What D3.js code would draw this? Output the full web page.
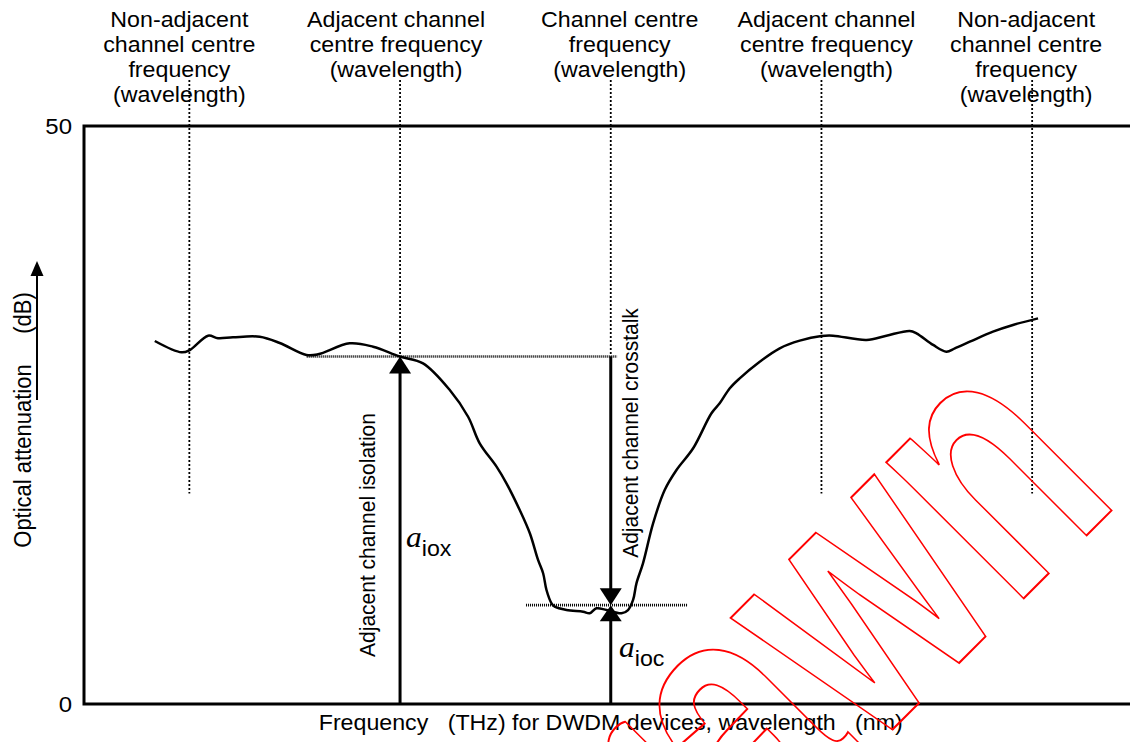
<!DOCTYPE html>
<html><head><meta charset="utf-8">
<script src="https://cdn.jsdelivr.net/npm/d3@7"></script>
<style>
body{margin:0;background:#fff}
svg{display:block}
text{font-family:"Liberation Sans",Arial,Helvetica,sans-serif;fill:#000}
</style>
</head><body>
<svg id="c" width="1130" height="742"></svg>
<script>
// ---- data ----
const channelPos = [-2, -1, 0, 1, 2];          // channel centres, in channel spacings
const channelLabels = [
  ["Non-adjacent", "channel centre", "frequency", "(wavelength)"],
  ["Adjacent channel", "centre frequency", "(wavelength)"],
  ["Channel centre", "frequency", "(wavelength)"],
  ["Adjacent channel", "centre frequency", "(wavelength)"],
  ["Non-adjacent", "channel centre", "frequency", "(wavelength)"]
];
const curveOffset = [-2.164,-2.037,-1.998,-1.911,-1.864,-1.793,-1.666,-1.571,-1.444,-1.389,-1.239,-1.128,-1.001,-0.891,-0.764,-0.677,-0.622,-0.542,-0.495,-0.432,-0.384,-0.345,-0.321,-0.305,-0.281,-0.266,-0.210,-0.131,-0.100,-0.068,-0.020,0.051,0.082,0.106,0.122,0.153,0.201,0.256,0.312,0.391,0.478,0.517,0.565,0.612,0.707,0.802,0.897,1.000,1.055,1.214,1.308,1.419,1.451,1.530,1.593,1.633,1.704,1.814,1.909,2.028];
const curveAtten  = [31.40,30.42,30.62,31.86,31.64,31.72,31.77,31.23,30.19,30.25,31.20,30.91,30.06,29.47,27.16,24.85,22.55,20.53,19.09,16.78,14.77,12.46,11.31,9.86,8.71,8.42,8.13,7.98,7.85,8.28,8.13,7.85,8.13,9.00,10.44,12.17,15.63,18.51,20.24,22.12,25.15,26.01,27.31,28.17,29.61,30.77,31.43,31.83,31.86,31.49,31.86,32.27,32.07,31.06,30.48,30.77,31.34,32.21,32.79,33.36];
const yTickValues = [0, 50];
const isolationDb = 30.06;   // attenuation at adjacent channel centre
const crosstalkDb = 8.55;    // attenuation at channel centre
const guideEndDb = [18.2, 30.06, 30.06, 18.2, 18.2];
const isolationRef = [-1.443, 0.03];   // extent of upper dotted reference
const crosstalkRef = [-0.402, 0.363];  // extent of lower dotted reference
const xTitle = "Frequency   (THz) for DWDM devices, wavelength   (nm)";
const yTitle = "Optical attenuation     (dB)";
const isoLabel = "Adjacent channel isolation";
const xtalkLabel = "Adjacent channel crosstalk";
const watermark = "Withdrawn";

// ---- drawing ----
const svg = d3.select("#c");
const x = d3.scaleLinear().domain([-2.5, 2.5]).range([84, 1137.5]);
const y = d3.scaleLinear().domain([0, 50]).range([704, 126]);
const SX = 1.09, FS = 21.3;

// frame
svg.append("path")
  .attr("d", `M${x(2.5)},${y(50)}H${x(-2.5)}V${y(0)}H${x(2.5)}`)
  .attr("fill", "none").attr("stroke", "#000").attr("stroke-width", 3);

// y ticks
const yAxis = svg.append("g").attr("transform", `translate(${x(-2.5)},0)`)
  .call(d3.axisLeft(y).tickValues(yTickValues).tickSize(0).tickPadding(12).tickFormat(d3.format("d")));
yAxis.select(".domain").remove();
yAxis.attr("font-size", null).attr("font-family", null);
yAxis.selectAll("text").style("font-size", "22px").style("font-family", '"Liberation Sans",Arial,sans-serif')
  .attr("dy", "0.36em").attr("fill", "#000")
  .attr("transform", `scale(${SX},1)`).attr("x", -12 / SX);

// channel guides (dotted)
svg.append("g").selectAll("line").data(channelPos).join("line")
  .attr("x1", d => x(d)).attr("x2", d => x(d))
  .attr("y1", 80).attr("y2", (d, i) => y(guideEndDb[i]))
  .attr("stroke", "#000").attr("stroke-width", 1.8).attr("stroke-dasharray", "2,2");

// channel labels
const labelShift = [-10, -4, 9, 5, -6];
const lg = svg.append("g").selectAll("g").data(channelPos).join("g");
lg.each(function(d, i) {
  const g = d3.select(this);
  channelLabels[i].forEach((t, j) => {
    g.append("text")
      .attr("transform", `translate(${x(d) + labelShift[i]},${27 + 25 * j}) scale(${SX},1)`)
      .attr("text-anchor", "middle").style("font-size", FS + "px").text(t);
  });
});

// reference dotted horizontals
svg.append("line").attr("x1", x(isolationRef[0])).attr("x2", x(isolationRef[1]))
  .attr("y1", y(isolationDb)).attr("y2", y(isolationDb))
  .attr("stroke", "#000").attr("stroke-width", 2.6).attr("stroke-dasharray", "1,1");
svg.append("line").attr("x1", x(crosstalkRef[0])).attr("x2", x(crosstalkRef[1]))
  .attr("y1", y(crosstalkDb)).attr("y2", y(crosstalkDb))
  .attr("stroke", "#000").attr("stroke-width", 2.6).attr("stroke-dasharray", "1,1");

// curve
const pts = curveOffset.map((v, i) => [v, curveAtten[i]]);
svg.append("path").datum(pts)
  .attr("d", d3.line().x(d => x(d[0])).y(d => y(d[1])).curve(d3.curveCatmullRom.alpha(0.5)))
  .attr("fill", "none").attr("stroke", "#000").attr("stroke-width", 2.5).attr("stroke-linejoin", "round");

// isolation arrow
const xi = x(-1), yi = y(isolationDb);
svg.append("line").attr("x1", xi).attr("x2", xi).attr("y1", y(0)).attr("y2", yi + 14)
  .attr("stroke", "#000").attr("stroke-width", 3);
svg.append("path").attr("d", `M${xi},${yi}L${xi - 11},${yi + 17}L${xi + 11},${yi + 17}Z`).attr("fill", "#000");

// crosstalk arrows
const xc = x(0), yc = y(crosstalkDb);
svg.append("line").attr("x1", xc).attr("x2", xc).attr("y1", yi).attr("y2", yc - 14)
  .attr("stroke", "#000").attr("stroke-width", 3);
svg.append("path").attr("d", `M${xc},${yc}L${xc - 11},${yc - 17}L${xc + 11},${yc - 17}Z`).attr("fill", "#000");
svg.append("path").attr("d", `M${xc},${yc}L${xc - 11},${yc + 16}L${xc + 11},${yc + 16}Z`).attr("fill", "#000");
svg.append("line").attr("x1", xc).attr("x2", xc).attr("y1", yc + 12).attr("y2", y(0))
  .attr("stroke", "#000").attr("stroke-width", 3);

// rotated labels
svg.append("text").attr("transform", `translate(375,535) scale(${SX},1) rotate(-90)`)
  .attr("text-anchor", "middle").style("font-size", "21px").text(isoLabel);
svg.append("text").attr("transform", `translate(638,433) scale(${SX},1) rotate(-90)`)
  .attr("text-anchor", "middle").style("font-size", "21px").text(xtalkLabel);

// a_iox, a_ioc
function sym(tx, ty, sub) {
  const t = svg.append("text").attr("transform", `translate(${tx},${ty}) scale(${SX},1)`);
  t.append("tspan").style("font-family", '"Liberation Serif","Times New Roman",serif')
    .style("font-style", "italic").style("font-size", "29px").text("a");
  t.append("tspan").style("font-size", FS + "px").attr("dy", 9).text(sub);
}
sym(406, 547, "iox");
sym(619, 657, "ioc");

// axis titles
svg.append("text").attr("transform", `translate(${x(0)},730) scale(${SX},1)`)
  .attr("text-anchor", "middle").style("font-size", FS + "px").style("white-space", "pre").text(xTitle);
svg.append("text").attr("transform", `translate(31,420) scale(${SX},1) rotate(-90)`)
  .attr("text-anchor", "middle").style("font-size", "22px").style("white-space", "pre").text(yTitle);
// y title arrow
svg.append("line").attr("x1", 37).attr("x2", 37).attr("y1", 400).attr("y2", 272)
  .attr("stroke", "#000").attr("stroke-width", 2);
svg.append("path").attr("d", "M37,261L30.5,276L43.5,276Z").attr("fill", "#000");

// watermark
svg.append("text").attr("transform", "translate(1123,499) rotate(-45) scale(0.71,1)")
  .attr("text-anchor", "end").style("font-size", "366px").style("font-weight", "bold")
  .style("fill", "none").attr("stroke", "#ff0000").attr("stroke-width", 1.8)
  .attr("vector-effect", "non-scaling-stroke").text(watermark);
</script>
</body></html>
